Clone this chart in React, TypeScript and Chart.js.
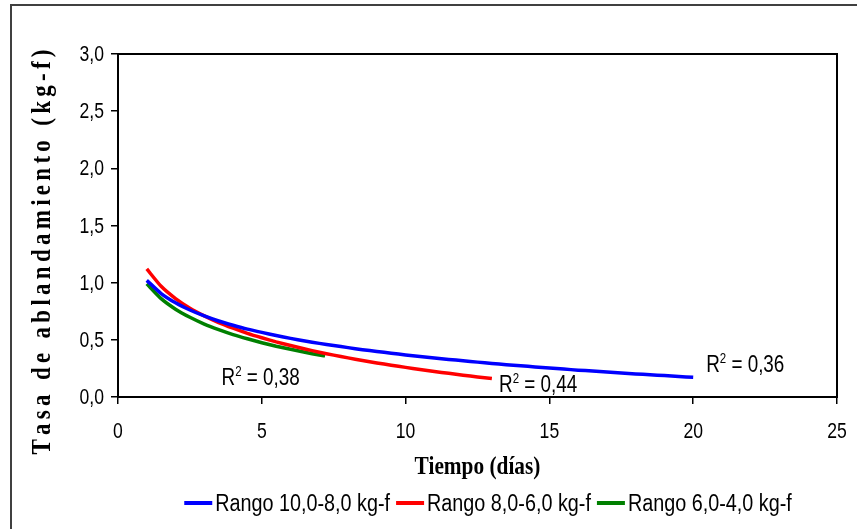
import React, { useEffect, useRef } from "react";
import { Chart, registerables } from "chart.js";

Chart.register(...registerables);

// ---- Data ----
const blueDays = [1, 1.5, 2, 2.5, 3, 3.5, 4, 4.5, 5, 5.5, 6, 6.5, 7, 7.5, 8, 8.5, 9, 9.5, 10, 10.5, 11, 11.5, 12, 12.5, 13, 13.5, 14, 14.5, 15, 15.5, 16, 16.5, 17, 17.5, 18, 18.5, 19, 19.5, 20];
const blueValues = [1.02, 0.905, 0.824, 0.761, 0.709, 0.665, 0.628, 0.594, 0.565, 0.538, 0.513, 0.49, 0.469, 0.45, 0.432, 0.414, 0.398, 0.383, 0.368, 0.355, 0.341, 0.329, 0.317, 0.305, 0.294, 0.283, 0.273, 0.263, 0.254, 0.244, 0.235, 0.227, 0.218, 0.21, 0.202, 0.194, 0.187, 0.179, 0.172];

const redDays = [1, 1.5, 2, 2.5, 3, 3.5, 4, 4.5, 5, 5.5, 6, 6.5, 7, 7.5, 8, 8.5, 9, 9.5, 10, 10.5, 11, 11.5, 12, 12.5, 13];
const redValues = [1.12, 0.968, 0.861, 0.777, 0.709, 0.651, 0.602, 0.557, 0.518, 0.482, 0.45, 0.42, 0.392, 0.366, 0.342, 0.32, 0.298, 0.278, 0.259, 0.241, 0.223, 0.207, 0.191, 0.175, 0.161];

const greenDays = [1, 1.5, 2, 2.5, 3, 3.5, 4, 4.5, 5, 5.5, 6, 6.5, 7, 7.2];
const greenValues = [0.99, 0.86, 0.768, 0.697, 0.638, 0.589, 0.546, 0.509, 0.475, 0.444, 0.417, 0.391, 0.367, 0.36];

const seriesLabels = ["Rango 10,0-8,0 kg-f", "Rango 8,0-6,0 kg-f", "Rango 6,0-4,0 kg-f"];
const seriesColors = ["#0000FF", "#FF0000", "#008000"];

const r2Values = ["0,36", "0,44", "0,38"];
const r2AnchorDays = [20.45, 13.25, 3.6];
const r2AnchorLevels = [0.22, 0.045, 0.105];

const xMin = 0, xMax = 25, xStep = 5;
const yMin = 0, yMax = 3, yStep = 0.5;
const xTitle = "Tiempo (días)";
const yTitle = "Tasa de ablandamiento (kg-f)";

// ---- styling helpers ----
const SANS = '"Liberation Sans", Arial, sans-serif';
const SERIF = '"Liberation Serif", "Times New Roman", serif';

function drawScaledText(ctx: CanvasRenderingContext2D, text: string, x: number, y: number, font: string, kx: number, align: CanvasTextAlign, baseline: CanvasTextBaseline, color = "#000") {
  ctx.save();
  ctx.font = font;
  ctx.fillStyle = color;
  ctx.textAlign = align;
  ctx.textBaseline = baseline;
  ctx.translate(x, y);
  ctx.scale(kx, 1);
  ctx.fillText(text, 0, 0);
  ctx.restore();
}

function measureScaled(ctx: CanvasRenderingContext2D, text: string, font: string, kx: number) {
  ctx.save();
  ctx.font = font;
  const w = ctx.measureText(text).width * kx;
  ctx.restore();
  return w;
}

const decorPlugin = {
  id: "decor",
  afterDraw(chart: any) {
    const ctx: CanvasRenderingContext2D = chart.ctx;
    const { left, right, top, bottom } = chart.chartArea;
    const xs = chart.scales.x;
    const ys = chart.scales.y;

    // outer frame (left + top visible)
    ctx.save();
    ctx.strokeStyle = "#404040";
    ctx.lineWidth = 2;
    ctx.beginPath();
    ctx.moveTo(11, chart.height);
    ctx.lineTo(11, 5);
    ctx.lineTo(chart.width, 5);
    ctx.stroke();
    ctx.restore();

    // plot frame
    ctx.save();
    ctx.strokeStyle = "#000";
    ctx.lineWidth = 2;
    ctx.strokeRect(left, top, right - left, bottom - top);
    ctx.restore();

    // tick labels
    const tickFont = `22px ${SANS}`;
    const kTick = 0.8;
    xs.ticks.forEach((t: any) => {
      const px = xs.getPixelForValue(t.value);
      drawScaledText(ctx, String(t.value), px, bottom + 41, tickFont, kTick, "center", "alphabetic");
    });
    ys.ticks.forEach((t: any) => {
      const py = ys.getPixelForValue(t.value);
      const label = t.value.toFixed(1).replace(".", ",");
      drawScaledText(ctx, label, left - 14, py + 1, tickFont, kTick, "right", "middle");
    });

    // x title
    drawScaledText(ctx, xTitle, (left + right) / 2, 474, `bold 26px ${SERIF}`, 0.82, "center", "alphabetic");

    // y title: rotated, letter-spaced
    ctx.save();
    ctx.font = `bold 28px ${SERIF}`;
    ctx.fillStyle = "#000";
    ctx.textBaseline = "alphabetic";
    ctx.textAlign = "left";
    const spacing = 4.3;
    const kT = 0.82;
    const chars = Array.from(yTitle);
    const widths = chars.map((c) => ctx.measureText(c).width * kT);
    const total = widths.reduce((a, b) => a + b, 0) + spacing * (chars.length - 1);
    ctx.translate(50, 252);
    ctx.rotate(-Math.PI / 2);
    let cx = -total / 2;
    chars.forEach((c, i) => {
      ctx.save();
      ctx.translate(cx, 0);
      ctx.scale(kT, 1);
      ctx.fillText(c, 0, 0);
      ctx.restore();
      cx += widths[i] + spacing;
    });
    ctx.restore();

    // R² labels
    const rFont = `23px ${SANS}`;
    const supFont = `14px ${SANS}`;
    const kR = 0.82;
    r2Values.forEach((v, i) => {
      const px = xs.getPixelForValue(r2AnchorDays[i]);
      const py = ys.getPixelForValue(r2AnchorLevels[i]);
      drawScaledText(ctx, "R", px, py, rFont, kR, "left", "alphabetic");
      const rw = measureScaled(ctx, "R", rFont, kR);
      drawScaledText(ctx, "2", px + rw, py - 9, supFont, kR, "left", "alphabetic");
      const sw = measureScaled(ctx, "2", supFont, kR);
      drawScaledText(ctx, " = " + v, px + rw + sw, py, rFont, kR, "left", "alphabetic");
    });

    // legend
    const legFont = `23px ${SANS}`;
    const kL = 0.86;
    const lineLen = 28, gapAfterLine = 3, gapItems = 6;
    const textWs = seriesLabels.map((l) => measureScaled(ctx, l, legFont, kL));
    const totalW = textWs.reduce((a, b) => a + b, 0) + seriesLabels.length * (lineLen + gapAfterLine) + gapItems * (seriesLabels.length - 1);
    let lx = 488 - totalW / 2;
    const ly = 503;
    seriesLabels.forEach((l, i) => {
      ctx.save();
      ctx.strokeStyle = seriesColors[i];
      ctx.lineWidth = 4;
      ctx.beginPath();
      ctx.moveTo(lx, ly);
      ctx.lineTo(lx + lineLen, ly);
      ctx.stroke();
      ctx.restore();
      lx += lineLen + gapAfterLine;
      drawScaledText(ctx, l, lx, ly + 8, legFont, kL, "left", "alphabetic");
      lx += textWs[i] + gapItems;
    });
  },
};

export default function App() {
  const canvasRef = useRef<HTMLCanvasElement | null>(null);

  useEffect(() => {
    const canvas = canvasRef.current;
    if (!canvas) return;
    const mk = (days: number[], vals: number[]) => days.map((d, i) => ({ x: d, y: vals[i] }));
    const chart = new Chart(canvas, {
      type: "line",
      data: {
        datasets: [
          { label: seriesLabels[0], data: mk(blueDays, blueValues), borderColor: seriesColors[0], backgroundColor: seriesColors[0], borderWidth: 3.5, pointRadius: 0, tension: 0.2, fill: false },
          { label: seriesLabels[1], data: mk(redDays, redValues), borderColor: seriesColors[1], backgroundColor: seriesColors[1], borderWidth: 3.5, pointRadius: 0, tension: 0.2, fill: false },
          { label: seriesLabels[2], data: mk(greenDays, greenValues), borderColor: seriesColors[2], backgroundColor: seriesColors[2], borderWidth: 3.5, pointRadius: 0, tension: 0.2, fill: false },
        ],
      },
      options: {
        responsive: false,
        animation: false,
        devicePixelRatio: 1,
        layout: { padding: { top: 54, right: 20, left: 0, bottom: 0 } },
        plugins: { legend: { display: false }, tooltip: { enabled: false }, title: { display: false } },
        scales: {
          x: {
            type: "linear",
            min: xMin,
            max: xMax,
            ticks: { stepSize: xStep, display: false },
            grid: { drawOnChartArea: false, drawTicks: true, tickLength: 7, color: "#000", lineWidth: 1.5 },
            border: { display: true, color: "#000", width: 2 },
            afterFit: (s: any) => { s.height = 132; },
          },
          y: {
            type: "linear",
            min: yMin,
            max: yMax,
            ticks: { stepSize: yStep, display: false },
            grid: { drawOnChartArea: false, drawTicks: true, tickLength: 7, color: "#000", lineWidth: 1.5 },
            border: { display: true, color: "#000", width: 2 },
            afterFit: (s: any) => { s.width = 118; },
          },
        },
      },
      plugins: [decorPlugin],
    } as any);
    return () => chart.destroy();
  }, []);

  return (
    <div style={{ position: "absolute", left: 0, top: 0, width: 857, height: 529, background: "#fff" }}>
      <canvas ref={canvasRef} width={857} height={529} />
    </div>
  );
}
